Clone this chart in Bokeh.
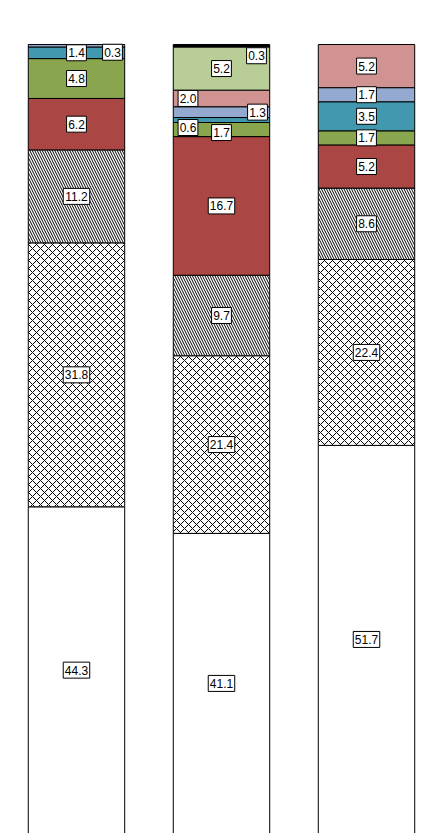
from bokeh.plotting import figure
from bokeh.models import Range1d, ColumnDataSource
from bokeh.core.properties import value
from bokeh.embed import file_html
from bokeh.resources import INLINE

# ---- data ----
bar_index = [0, 1, 2]
s_white = [44.3, 41.1, 51.7]
s_cross = [31.8, 21.4, 22.4]
s_diag = [11.2, 9.7, 8.6]
s_red = [6.2, 16.7, 5.2]
s_green = [4.8, 1.7, 1.7]
s_teal = [1.4, 0.6, 3.5]
s_blue = [0.3, 1.3, 1.7]
s_pink = [0.0, 2.0, 5.2]
s_lgreen = [0.0, 5.2, 0.0]
s_black = [0.0, 0.3, 0.0]

series = [s_white, s_cross, s_diag, s_red, s_green, s_teal, s_blue, s_pink, s_lgreen, s_black]

# ---- styles ----
fills = ["#FFFFFF", "#FFFFFF", "#FFFFFF", "#AA4643", "#89A54E", "#4198AF",
         "#93A9CF", "#D19392", "#B9CD96", "#000000"]
hatches = [None, "x", "\\", None, None, None, None, None, None, None]
hatch_scales = [12, 8, 5, 12, 12, 12, 12, 12, 12, 12]
hatch_weights = [1, 1, 1, 1, 1, 1, 1, 1, 1, 1]

# label nudges in pixels for crowded small segments: (bar, series) -> (dx, dy)
nudges = {
    (0, 6): (36, 6.5),
    (1, 9): (35, 10),
    (1, 7): (-33.5, 0),
    (1, 6): (36, 0),
    (1, 5): (-33.5, 7.5),
    (1, 4): (0, 3),
}

W, H = 443, 833
X0, X1 = -0.524, 2.531
Y0, Y1 = 4.94, 105.30
px_x = W / (X1 - X0)
px_y = H / (Y1 - Y0)

p = figure(width=W, height=H, output_backend="svg", toolbar_location=None,
           x_range=Range1d(X0, X1), y_range=Range1d(Y0, Y1),
           min_border=0, min_border_left=0, min_border_right=0,
           min_border_top=0, min_border_bottom=0)
p.xaxis.visible = False
p.yaxis.visible = False
p.grid.visible = False
p.outline_line_color = None
p.background_fill_color = "#FFFFFF"
p.border_fill_color = "#FFFFFF"

bottoms = [0.0, 0.0, 0.0]
lx, ly, lt, lw = [], [], [], []
for si, vals in enumerate(series):
    tops = [b + v for b, v in zip(bottoms, vals)]
    xs = [x for x, v in zip(bar_index, vals) if v > 0]
    bs = [b for b, v in zip(bottoms, vals) if v > 0]
    ts = [t for t, v in zip(tops, vals) if v > 0]
    kw = dict(fill_color=fills[si], line_color="black", line_width=1)
    if hatches[si]:
        kw.update(hatch_pattern=hatches[si], hatch_color="black",
                  hatch_weight=hatch_weights[si], hatch_scale=hatch_scales[si])
    p.vbar(x=xs, bottom=bs, top=ts, width=0.665, **kw)
    for bi, v in enumerate(vals):
        if v <= 0:
            continue
        lo = max(bottoms[bi], Y0)
        dx, dy = nudges.get((bi, si), (0, 0))
        txt = f"{v:.1f}"
        lx.append(bar_index[bi] + dx / px_x)
        ly.append((lo + tops[bi]) / 2 - dy / px_y)
        lt.append(txt)
        lw.append(6.7 * sum(1 for c in txt if c != ".") + 3.4 + 3)
    bottoms = tops

src = ColumnDataSource(dict(x=lx, y=ly, t=lt, w=lw))
p.rect(x="x", y="y", width="w", height=16, width_units="screen",
       height_units="screen", source=src, fill_color="white",
       line_color="black", line_width=1)
p.text(x="x", y="y", text="t", source=src,
       text_align="center", text_baseline="middle",
       text_font=value("Liberation Sans"), text_font_size="12px",
       text_color="black")

open("out.html", "w").write(file_html(p, INLINE))
